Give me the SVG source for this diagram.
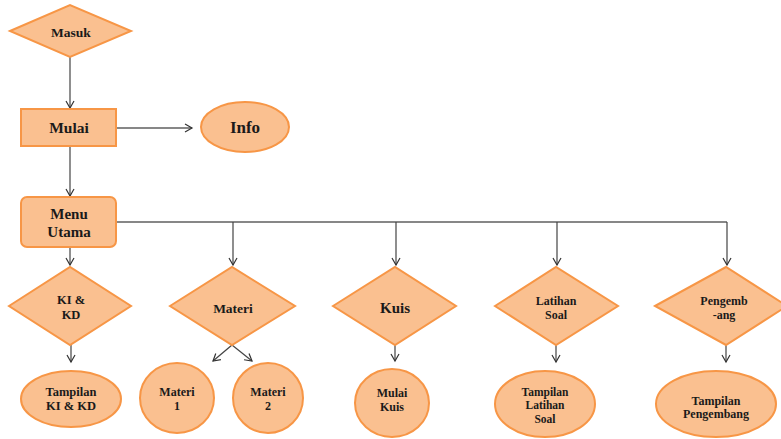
<svg xmlns="http://www.w3.org/2000/svg" width="781" height="439" viewBox="0 0 781 439">
<defs>
<marker id="arr" markerWidth="10" markerHeight="10" refX="8" refY="5" orient="auto" markerUnits="userSpaceOnUse">
<path d="M1,1 L8,5 L1,9" fill="none" stroke="#333" stroke-width="1.2"/>
</marker>
<style>
.n{fill:#FAC090;stroke:#F79646;stroke-width:2}
.t{font-family:"Liberation Serif",serif;font-weight:bold;fill:#1a1a1a;text-anchor:middle}
.c{fill:none;stroke:#444;stroke-width:1.2}
.k{fill:none;stroke:#111;stroke-width:1.2}
</style>
</defs>
<rect width="781" height="439" fill="#fff"/>
<g id="connectors">
<line class="c" x1="70" y1="57" x2="70" y2="108" marker-end="url(#arr)"/>
<line class="k" x1="116" y1="128" x2="192" y2="128" marker-end="url(#arr)"/>
<line class="c" x1="70" y1="146" x2="70" y2="196" marker-end="url(#arr)"/>
<polyline class="k" points="116,222 727,222"/>
<line class="c" x1="70" y1="247" x2="70" y2="265" marker-end="url(#arr)"/>
<line class="c" x1="233" y1="222" x2="233" y2="265" marker-end="url(#arr)"/>
<line class="c" x1="396" y1="222" x2="396" y2="265" marker-end="url(#arr)"/>
<line class="c" x1="557" y1="222" x2="557" y2="265" marker-end="url(#arr)"/>
<line class="c" x1="727" y1="222" x2="727" y2="265" marker-end="url(#arr)"/>
<line class="c" x1="71" y1="345" x2="71" y2="362" marker-end="url(#arr)"/>
<line class="c" x1="232" y1="345" x2="213" y2="361" marker-end="url(#arr)"/>
<line class="c" x1="232" y1="345" x2="252" y2="361" marker-end="url(#arr)"/>
<line class="c" x1="395" y1="345" x2="395" y2="361" marker-end="url(#arr)"/>
<line class="c" x1="556" y1="345" x2="556" y2="362" marker-end="url(#arr)"/>
<line class="c" x1="726" y1="345" x2="726" y2="362" marker-end="url(#arr)"/>
</g>
<g id="masuk">
<polygon class="n" points="10,31 70,5 131,31 70,57"/>
<text class="t" x="71" y="37" font-size="13.5">Masuk</text>
</g>
<g id="mulai">
<rect class="n" x="21" y="109" width="95" height="37"/>
<text class="t" x="69" y="133" font-size="15.5">Mulai</text>
</g>
<g id="info">
<ellipse class="n" cx="245" cy="127" rx="44" ry="25"/>
<text class="t" x="245" y="133" font-size="17">Info</text>
</g>
<g id="menu-utama">
<rect class="n" x="21" y="197" width="95" height="50" rx="6"/>
<text class="t" x="69" y="219" font-size="15">Menu</text>
<text class="t" x="69" y="237" font-size="15">Utama</text>
</g>
<g id="ki-kd">
<polygon class="n" points="9,306 70,267 131,306 70,345"/>
<text class="t" x="71" y="304" font-size="12.5">KI &amp;</text>
<text class="t" x="71" y="319" font-size="12.5">KD</text>
</g>
<g id="materi">
<polygon class="n" points="170,306 232,267 295,306 232,345"/>
<text class="t" x="233" y="313" font-size="13.5">Materi</text>
</g>
<g id="kuis">
<polygon class="n" points="333,306 395,267 456,306 395,345"/>
<text class="t" x="395" y="313" font-size="15">Kuis</text>
</g>
<g id="latihan-soal">
<polygon class="n" points="495,306 556,267 618,306 556,345"/>
<text class="t" x="556" y="305" font-size="12">Latihan</text>
<text class="t" x="556" y="319" font-size="12">Soal</text>
</g>
<g id="pengembang">
<polygon class="n" points="655,306 726,267 787,306 726,345"/>
<text class="t" x="724" y="305" font-size="12">Pengemb</text>
<text class="t" x="724" y="319" font-size="12">-ang</text>
</g>
<g id="tampilan-ki-kd">
<ellipse class="n" cx="71" cy="399" rx="50" ry="28"/>
<text class="t" x="71" y="396" font-size="12.5">Tampilan</text>
<text class="t" x="71" y="410" font-size="12.5">KI &amp; KD</text>
</g>
<g id="materi-1">
<ellipse class="n" cx="177" cy="398" rx="37" ry="35"/>
<text class="t" x="177" y="396" font-size="12">Materi</text>
<text class="t" x="177" y="410" font-size="12">1</text>
</g>
<g id="materi-2">
<ellipse class="n" cx="268" cy="398" rx="35" ry="35"/>
<text class="t" x="268" y="396" font-size="12">Materi</text>
<text class="t" x="268" y="410" font-size="12">2</text>
</g>
<g id="mulai-kuis">
<ellipse class="n" cx="392" cy="403" rx="37" ry="34"/>
<text class="t" x="392" y="397" font-size="12">Mulai</text>
<text class="t" x="392" y="411" font-size="12">Kuis</text>
</g>
<g id="tampilan-latihan-soal">
<ellipse class="n" cx="545" cy="404" rx="50" ry="33"/>
<text class="t" x="545" y="396" font-size="11.5">Tampilan</text>
<text class="t" x="545" y="409" font-size="11.5">Latihan</text>
<text class="t" x="545" y="423" font-size="11.5">Soal</text>
</g>
<g id="tampilan-pengembang">
<ellipse class="n" cx="716" cy="404" rx="60" ry="33"/>
<text class="t" x="716" y="405" font-size="12">Tampilan</text>
<text class="t" x="716" y="418" font-size="12">Pengembang</text>
</g>
</svg>
